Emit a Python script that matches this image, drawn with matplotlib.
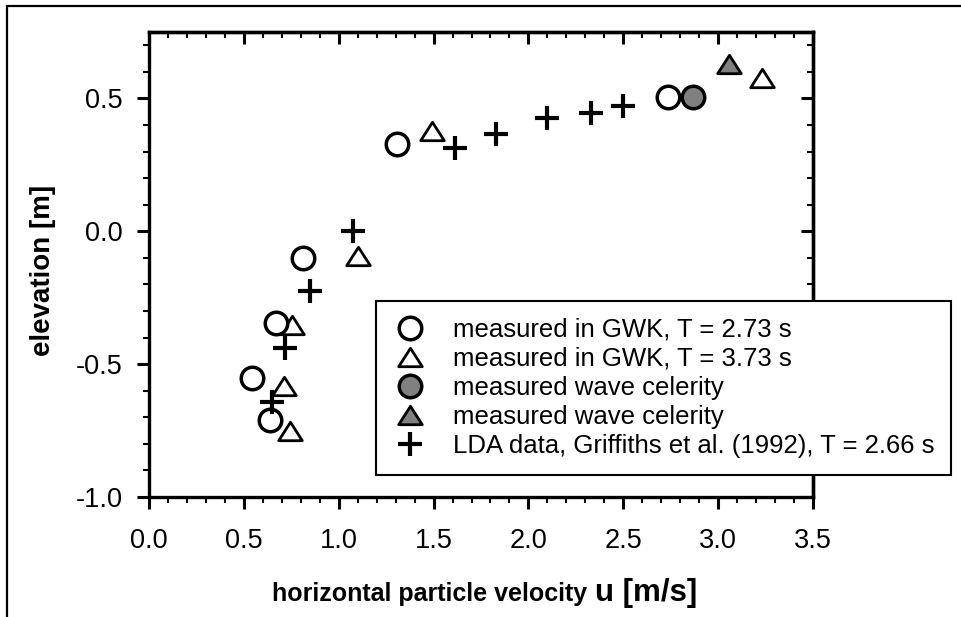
import matplotlib
matplotlib.use("Agg")
import matplotlib.pyplot as plt
from matplotlib.markers import MarkerStyle
from matplotlib.path import Path
from matplotlib.patches import Rectangle
from matplotlib.ticker import MultipleLocator, FormatStrFormatter

plt.rcParams['font.family'] = ['Liberation Sans', 'DejaVu Sans']

# ---- data ----
circ_u = [1.306, 0.810, 0.668, 0.541, 0.638, 2.737]
circ_e = [0.328, -0.099, -0.346, -0.551, -0.712, 0.506]

tri_u = [1.490, 1.100, 0.755, 0.713, 0.743, 3.230]
tri_e = [0.378, -0.092, -0.352, -0.582, -0.751, 0.577]

cel_circ_u = [2.869]
cel_circ_e = [0.506]

cel_tri_u = [3.059]
cel_tri_e = [0.628]

lda_u = [1.077, 0.849, 0.717, 0.647, 1.613, 1.829, 2.100, 2.328, 2.500]
lda_e = [0.0, -0.225, -0.438, -0.643, 0.312, 0.368, 0.425, 0.447, 0.471]

labels = ["measured in GWK, T = 2.73 s",
          "measured in GWK, T = 3.73 s",
          "measured wave celerity",
          "measured wave celerity",
          "LDA data, Griffiths et al. (1992), T = 2.66 s"]

xticks = [0.0, 0.5, 1.0, 1.5, 2.0, 2.5, 3.0, 3.5]
yticks = [-1.0, -0.5, 0.0, 0.5]

# ---- figure ----
W, H = 961, 617
fig = plt.figure(figsize=(W / 100, H / 100), dpi=100)
ax = fig.add_axes([149 / W, 1 - 497 / H, (813 - 149) / W, (497 - 32) / H])

tri_path = Path([(0, 0.78), (-1, -0.78), (1, -0.78), (0, 0.78)],
                [Path.MOVETO, Path.LINETO, Path.LINETO, Path.CLOSEPOLY])
tri_marker = MarkerStyle(tri_path, joinstyle='miter')

grey = '#808080'
h_tri, = ax.plot(tri_u, tri_e, ls='none', marker=tri_marker, ms=17,
                 mfc='white', mec='black', mew=2.0, label=labels[1])
h_circ, = ax.plot(circ_u, circ_e, ls='none', marker='o', ms=16.2,
                  mfc='white', mec='black', mew=2.5, label=labels[0])
h_ccirc, = ax.plot(cel_circ_u, cel_circ_e, ls='none', marker='o', ms=16.2,
                   mfc=grey, mec='black', mew=2.5, label=labels[2])
h_ctri, = ax.plot(cel_tri_u, cel_tri_e, ls='none', marker=tri_marker, ms=17,
                  mfc=grey, mec='black', mew=2.0, label=labels[3])
h_lda, = ax.plot(lda_u, lda_e, ls='none', marker='+', ms=17,
                 mec='black', mew=3.0, label=labels[4])

ax.set_xlim(0, 3.5)
ax.set_ylim(-1.0, 0.75)
ax.set_xticks(xticks)
ax.set_yticks(yticks)
ax.xaxis.set_major_formatter(FormatStrFormatter('%.1f'))
ax.yaxis.set_major_formatter(FormatStrFormatter('%.1f'))
ax.xaxis.set_minor_locator(MultipleLocator(0.1))
ax.yaxis.set_minor_locator(MultipleLocator(0.1))

for s in ax.spines.values():
    s.set_linewidth(2.4)

ax.tick_params(axis='both', which='major', direction='out', length=8.5,
               width=2.2, labelsize=19.5, top=False, right=False)
ax.tick_params(axis='both', which='minor', direction='out', length=4.2,
               width=1.5, top=False, right=False)
ax.tick_params(axis='x', which='major', pad=14)
ax.tick_params(axis='y', which='major', pad=10.5)

# top / right ticks pointing inward
sx = ax.secondary_xaxis('top')
sx.set_xticks(xticks)
sx.xaxis.set_minor_locator(MultipleLocator(0.1))
sx.tick_params(which='major', direction='in', length=8.5, width=2.2, labeltop=False)
sx.tick_params(which='minor', direction='in', length=4.2, width=1.5)
sx.spines['top'].set_linewidth(2.4)

sy = ax.secondary_yaxis('right')
sy.set_yticks(yticks)
sy.yaxis.set_minor_locator(MultipleLocator(0.1))
sy.tick_params(which='major', direction='in', length=9, width=2.2, labelright=False)
sy.tick_params(which='minor', direction='in', length=4.0, width=1.5)
sy.spines['right'].set_linewidth(2.4)

# y label
ax.set_ylabel("elevation [m]", fontsize=20, fontweight='bold')
ax.yaxis.label.set_va('center')
ax.yaxis.set_label_coords((43.5 - 149) / (813 - 149), (497 - 270) / (497 - 32))

# x label: two sizes
fig.text(587 / W, 1 - 601 / H, "horizontal particle velocity", fontsize=18,
         fontweight='bold', ha='right', va='baseline')
fig.text(595 / W, 1 - 601 / H, "u [m/s]", fontsize=22.5,
         fontweight='bold', ha='left', va='baseline')

# legend
leg = fig.legend(handles=[h_circ, h_tri, h_ccirc, h_ctri, h_lda], labels=labels,
                 loc='upper left', bbox_to_anchor=(376 / W, 1 - 301 / H),
                 bbox_transform=fig.transFigure, borderaxespad=0,
                 fontsize=18.5, frameon=True, fancybox=False, framealpha=1,
                 edgecolor='black', borderpad=0.65, handlelength=1.35,
                 handletextpad=1.0, labelspacing=0.2, numpoints=1)
leg.get_frame().set_linewidth(1.5)

# outer frame (open at the bottom, extends past right edge)
fig.patches.append(Rectangle((7 / W, -0.05), 1.05, 1 - 6 / H + 0.05,
                             transform=fig.transFigure, fill=False,
                             lw=1.6, edgecolor='black', clip_on=False))

fig.savefig("out.png", dpi=100)
